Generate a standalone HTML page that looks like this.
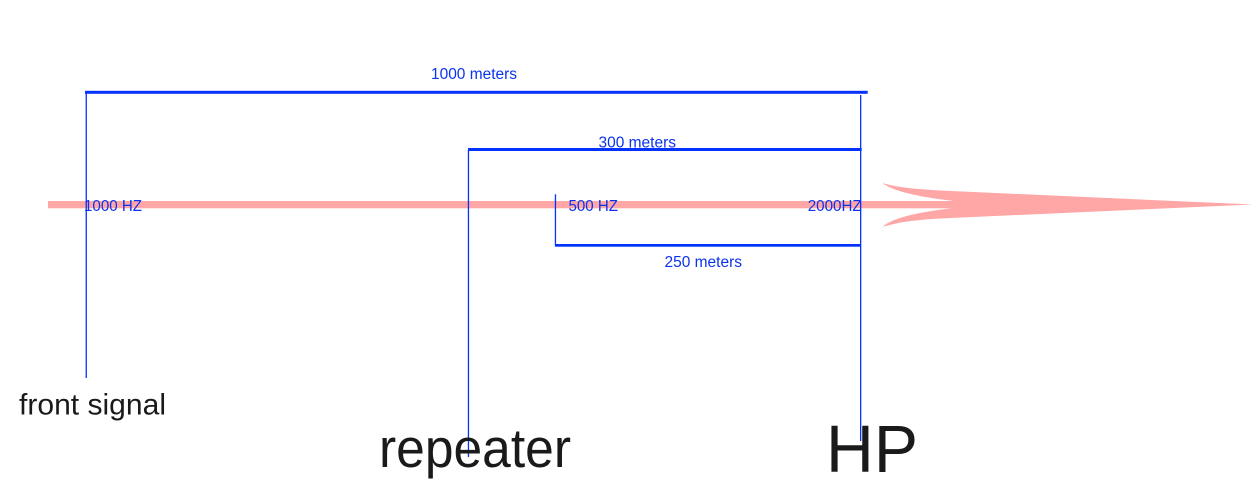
<!DOCTYPE html>
<html>
<head>
<meta charset="utf-8">
<style>
  html, body { margin: 0; padding: 0; background: #ffffff; }
  body { width: 1253px; height: 498px; overflow: hidden; }
  svg { display: block; }
  .lbl { font-family: "Liberation Sans", sans-serif; fill: #0b33ee; font-size: 15.5px; }
  .big { font-family: "Liberation Sans", sans-serif; fill: #1a1a1a; }
</style>
</head>
<body>
<svg width="1253" height="498" viewBox="0 0 1253 498" xmlns="http://www.w3.org/2000/svg">
  <!-- pink shaft -->
  <rect x="48" y="201" width="905" height="7.3" fill="#ffa6a6"/>
  <!-- pink arrowhead -->
  <path d="M 882.7 183.3 C 895 186, 900 188, 940 190.5 L 1253 204.5 L 940 218.5 C 900 221, 895 224, 882.7 226.7 C 890 220, 910 213, 952 208.3 L 952 200.7 C 910 196, 890 189, 882.7 183.3 Z" fill="#ffa6a6"/>

  <!-- blue bars -->
  <rect x="85" y="90.8" width="782.7" height="3" fill="#0433ff"/>
  <rect x="468" y="148" width="393.7" height="3" fill="#0433ff"/>
  <rect x="555" y="244" width="306" height="2.7" fill="#0433ff"/>

  <!-- verticals -->
  <rect x="85.6" y="93" width="1.3" height="285" fill="#0433ff"/>
  <rect x="467.8" y="150" width="1.3" height="307" fill="#0433ff"/>
  <rect x="554.8" y="194.3" width="1.3" height="51" fill="#0433ff"/>
  <rect x="860" y="95" width="1.3" height="346" fill="#0433ff"/>

  <!-- small blue labels -->
  <text class="lbl" x="431" y="79" textLength="86" lengthAdjust="spacingAndGlyphs">1000 meters</text>
  <text class="lbl" x="598.5" y="147.7" textLength="77.5" lengthAdjust="spacingAndGlyphs">300 meters</text>
  <text class="lbl" x="664.5" y="267" textLength="77.5" lengthAdjust="spacingAndGlyphs">250 meters</text>
  <text class="lbl" x="84" y="211" textLength="58" lengthAdjust="spacingAndGlyphs">1000 HZ</text>
  <text class="lbl" x="568.5" y="211" textLength="49.5" lengthAdjust="spacingAndGlyphs">500 HZ</text>
  <text class="lbl" x="807.7" y="211" textLength="54" lengthAdjust="spacingAndGlyphs">2000HZ</text>

  <!-- big black labels -->
  <text class="big" x="19" y="414.5" font-size="29.5" textLength="147" lengthAdjust="spacingAndGlyphs">front signal</text>
  <text class="big" x="379" y="467" font-size="55" textLength="192" lengthAdjust="spacingAndGlyphs">repeater</text>
  <text class="big" x="826" y="472" font-size="67" textLength="92" lengthAdjust="spacingAndGlyphs">HP</text>
</svg>
</body>
</html>
